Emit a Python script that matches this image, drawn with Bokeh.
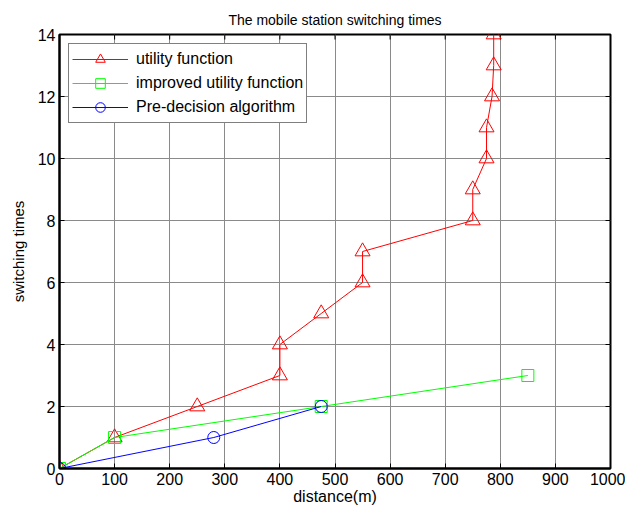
from bokeh.plotting import figure
from bokeh.models import FixedTicker, Range1d
from bokeh.embed import file_html
from bokeh.resources import INLINE

# Data
util_x = [0, 100, 250, 400, 400, 475, 550, 550, 750, 750, 775, 775, 785, 788, 788]
util_y = [0, 1, 2, 3, 4, 5, 6, 7, 8, 9, 10, 11, 12, 13, 14]
impr_x = [0, 100, 475, 850]
impr_y = [0, 1, 2, 3]
pre_x = [0, 280, 475]
pre_y = [0, 1, 2]
x_ticks = [0, 100, 200, 300, 400, 500, 600, 700, 800, 900, 1000]
y_ticks = [0, 2, 4, 6, 8, 10, 12, 14]

FONT = "Liberation Sans"
X0, X1, Y0, Y1 = 0, 1000, 0, 14

W, H = 625, 510
BL, BR, BT, BB = 59, 15, 34, 42

p = figure(width=W, height=H, output_backend="svg", toolbar_location=None,
           x_range=Range1d(X0, X1), y_range=Range1d(Y0, Y1),
           title="The mobile station switching times",
           min_border_left=BL, min_border_right=BR, min_border_bottom=BB, min_border_top=BT)

p.title.align = "center"
p.title.text_font = FONT
p.title.text_font_size = "14px"
p.title.text_font_style = "normal"
p.title.text_color = "black"
p.title.standoff = 13

p.xaxis.ticker = FixedTicker(ticks=x_ticks)
p.yaxis.ticker = FixedTicker(ticks=y_ticks)
p.xaxis.axis_label = "distance(m)"
p.yaxis.axis_label = "switching times"
for ax in (p.xaxis, p.yaxis):
    ax.axis_label_text_font = FONT
    ax.axis_label_text_font_style = "normal"
    ax.major_label_text_font = FONT
    ax.major_label_text_font_size = "16px"
    ax.major_label_text_color = "black"
    ax.axis_label_text_color = "black"
    ax.major_tick_in = 5
    ax.major_tick_out = 0
    ax.minor_tick_line_color = None
    ax.axis_line_width = 2
    ax.axis_line_color = "black"
    ax.major_tick_line_color = "black"
    ax.major_label_standoff = 4
p.xaxis.axis_label_text_font_size = "16px"
p.yaxis.axis_label_text_font_size = "15px"
p.xaxis.axis_label_standoff = 0
p.yaxis.axis_label_standoff = 8

p.xgrid.ticker = FixedTicker(ticks=x_ticks)
p.ygrid.ticker = FixedTicker(ticks=y_ticks)
p.grid.grid_line_color = "#8a8a8a"
p.grid.grid_line_width = 1
p.outline_line_color = "black"
p.outline_line_width = 2
p.background_fill_color = "white"
p.border_fill_color = "white"

# inward ticks on top and right edges (box style), sized in pixels via frame scale
frame_w = W - BL - BR
frame_h = H - BT - BB
tick_dy = 5 * (Y1 - Y0) / frame_h
tick_dx = 5 * (X1 - X0) / frame_w
p.segment(x0=x_ticks, y0=[Y1] * len(x_ticks), x1=x_ticks, y1=[Y1 - tick_dy] * len(x_ticks),
          line_color="black", line_width=1)
p.segment(x0=[X1] * len(y_ticks), y0=y_ticks, x1=[X1 - tick_dx] * len(y_ticks), y1=y_ticks,
          line_color="black", line_width=1)

p.line(util_x, util_y, color="red", line_width=1, legend_label="utility function")
p.scatter(util_x, util_y, marker="triangle", size=15, fill_color=None, line_color="red",
          line_width=1, legend_label="utility function")
p.line(impr_x, impr_y, color="#00ff00", line_width=1, legend_label="improved utility function")
p.scatter(impr_x, impr_y, marker="square", size=12, fill_color=None, line_color="#00ff00",
          line_width=1, legend_label="improved utility function")
p.line(pre_x, pre_y, color="blue", line_width=1, legend_label="Pre-decision algorithm")
p.scatter(pre_x, pre_y, marker="circle", size=12, fill_color=None, line_color="blue",
          line_width=1, legend_label="Pre-decision algorithm")

lg = p.legend[0]
lg.location = "top_left"
lg.margin = 9
lg.padding = 3
lg.spacing = 0
lg.label_height = 24
lg.glyph_height = 24
lg.glyph_width = 56
lg.label_text_font = FONT
lg.label_text_font_size = "16px"
lg.label_text_color = "black"
lg.border_line_color = "black"
lg.border_line_width = 1
lg.background_fill_alpha = 1
lg.label_standoff = 8

open("out.html", "w").write(file_html(p, INLINE))
